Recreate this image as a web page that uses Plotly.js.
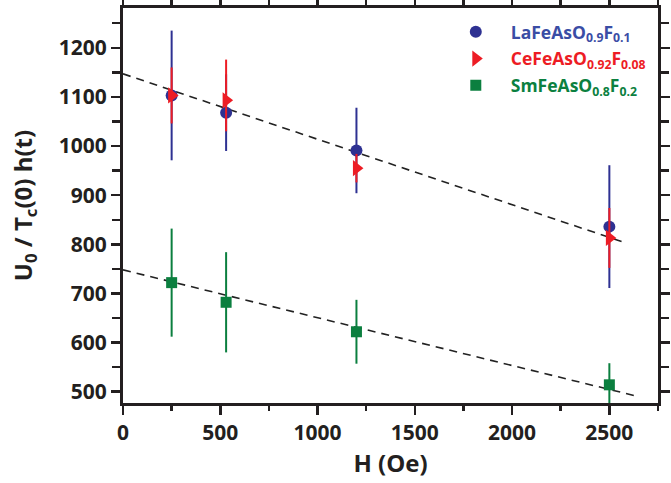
<!DOCTYPE html>
<html>
<head>
<meta charset="utf-8">
<script src="https://cdn.plot.ly/plotly-3.0.1.min.js"></script>
<style>html,body{margin:0;padding:0;background:#fff;}#chart{width:671px;height:483px;}</style>
</head>
<body>
<div id="chart"></div>
<script>
// Field values (Oe)
const fieldLa = [250, 530, 1200, 2500];
const fieldCe = [250, 530, 1200, 2500];
const fieldSm = [250, 530, 1200, 2500];
// U0 / Tc(0) h(t)
const valueLa = [1103, 1068, 991, 836];
const errLa = [132, 78, 87, 125];
const valueCe = [1103, 1093, 955, 813];
const errCePlus = [57, 83, 29, 61];
const errCeMinus = [57, 63, 29, 61];
const valueSm = [722, 682, 622, 514];
const errSm = [110, 102, 65, 44];
// dashed guide lines
const guideUpperX = [0, 2590];
const guideUpperY = [1147, 802];
const guideLowerX = [0, 2650];
const guideLowerY = [748, 490];
// names
const nameLa = '<span style="color:#3A4DA5">LaFeAsO<sub>0.9</sub>F<sub>0.1</sub></span>';
const nameCe = '<span style="color:#ED1C24">CeFeAsO<sub>0.92</sub>F<sub>0.08</sub></span>';
const nameSm = '<span style="color:#0B8040">SmFeAsO<sub>0.8</sub>F<sub>0.2</sub></span>';

const cBlue = '#2E3192', cRed = '#ED1C24', cGreen = '#0B7F3F';
const frame = '#231F20';
const fontFam = '"Open Sans", "DejaVu Sans", sans-serif';

const traces = [
  {x: guideUpperX, y: guideUpperY, mode: 'lines', showlegend: false, hoverinfo: 'skip',
   line: {color: '#222', width: 1.6, dash: '8px,6px'}},
  {x: guideLowerX, y: guideLowerY, mode: 'lines', showlegend: false, hoverinfo: 'skip',
   line: {color: '#222', width: 1.6, dash: '8px,6px'}},
  {x: fieldLa, y: valueLa, mode: 'markers', name: nameLa, legendgroup: 'a',
   marker: {symbol: 'circle', size: 12, color: cBlue},
   error_y: {type: 'data', array: errLa, visible: true, color: cBlue, thickness: 2, width: 0}},
  {x: fieldCe, y: valueCe, mode: 'markers', name: nameCe, legendgroup: 'b',
   marker: {symbol: 'triangle-right', size: 14, color: cRed},
   error_y: {type: 'data', array: errCePlus, arrayminus: errCeMinus, symmetric: false, visible: true, color: cRed, thickness: 2, width: 0}},
  {x: fieldSm, y: valueSm, mode: 'markers', name: nameSm, legendgroup: 'c',
   marker: {symbol: 'square', size: 11, color: cGreen},
   error_y: {type: 'data', array: errSm, visible: true, color: cGreen, thickness: 2, width: 0}}
];

const axisCommon = {
  showline: true, linecolor: frame, linewidth: 3, mirror: 'allticks',
  ticks: 'outside', tickcolor: frame, tickwidth: 2.5, ticklen: 9,
  showgrid: false, zeroline: false,
  tickfont: {family: fontFam, size: 21, color: '#231F20', weight: 'bold'}
};

const layout = {
  width: 671, height: 483,
  margin: {l: 123, r: 13, t: 8, b: 80},
  paper_bgcolor: '#fff', plot_bgcolor: '#fff',
  xaxis: Object.assign({}, axisCommon, {
    range: [0, 2750], tickvals: [0, 500, 1000, 1500, 2000, 2500],
    minor: {tickvals: [250, 750, 1250, 1750, 2250, 2750], ticks: 'outside', ticklen: 5, tickwidth: 2.5, tickcolor: frame},
    title: {text: 'H (Oe)', font: {family: fontFam, size: 24, color: '#231F20', weight: 'bold'}, standoff: 4}
  }),
  yaxis: Object.assign({}, axisCommon, {
    range: [477, 1281], tickvals: [500, 600, 700, 800, 900, 1000, 1100, 1200],
    minor: {dtick: 50, ticks: 'outside', ticklen: 8, tickwidth: 2.5, tickcolor: frame},
    title: {text: 'U<sub>0</sub> / T<sub>c</sub>(0) h(t)', font: {family: fontFam, size: 24, color: '#231F20', weight: 'bold'}, standoff: 20}
  }),
  legend: {x: 0.594, y: 0.985, xanchor: 'left', yanchor: 'top', bgcolor: 'rgba(0,0,0,0)',
    font: {family: fontFam, size: 17.5, weight: 'bold'}, tracegroupgap: 1, itemwidth: 60},
  showlegend: true
};

Plotly.newPlot('chart', traces, layout, {displayModeBar: false, staticPlot: true});
</script>
</body>
</html>
